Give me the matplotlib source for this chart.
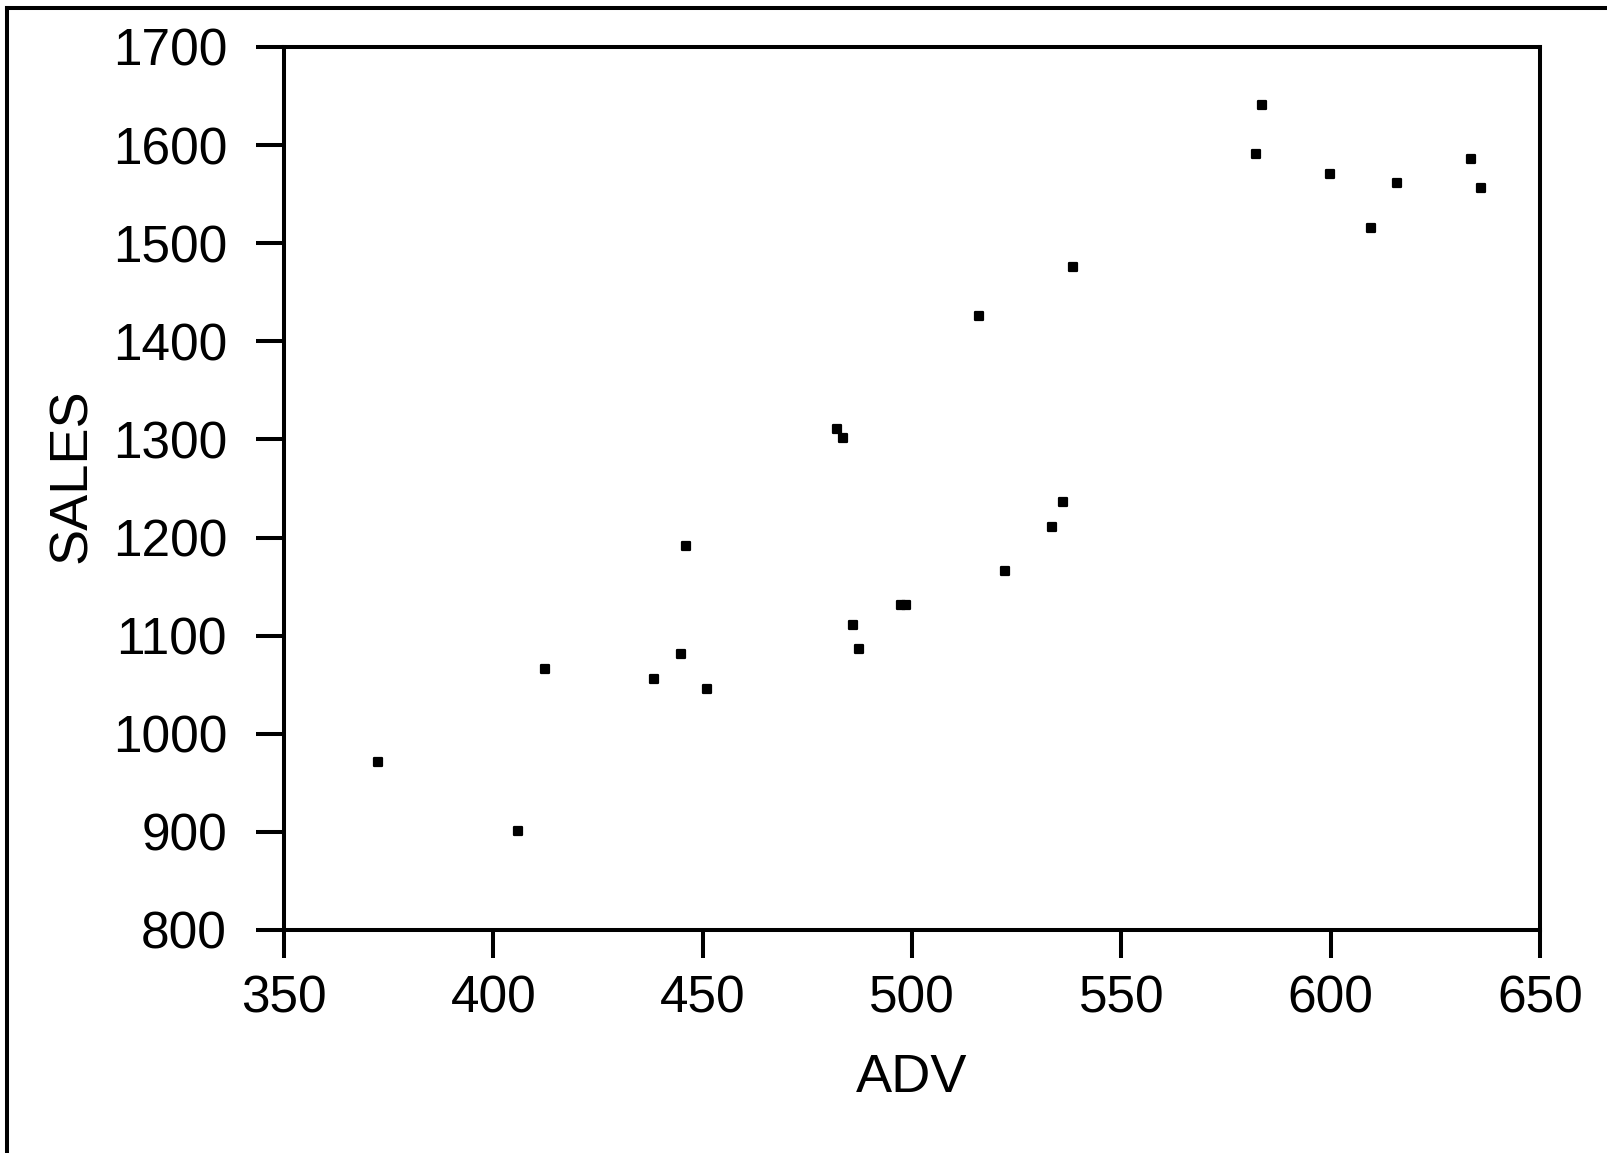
import matplotlib.pyplot as plt
from matplotlib.lines import Line2D
from matplotlib.markers import MarkerStyle

# ---- data ----
ADV = [372.4, 406.0, 412.3, 438.3, 444.8, 446.0, 451.0,
       482.2, 483.6, 486.0, 487.3, 497.3, 498.6,
       516.0, 522.3, 533.5, 536.0, 538.5,
       582.2, 583.5, 599.8, 609.6, 615.9, 633.4, 636.0]
SALES = [971, 901, 1066, 1056, 1081, 1191, 1046,
         1311, 1301, 1111, 1086, 1131, 1131,
         1426, 1166, 1211, 1236, 1476,
         1591, 1641, 1571, 1516, 1561, 1586, 1556]

X_TICKS = [350, 400, 450, 500, 550, 600, 650]
Y_TICKS = [800, 900, 1000, 1100, 1200, 1300, 1400, 1500, 1600, 1700]

plt.rcParams['font.family'] = ['Liberation Sans', 'DejaVu Sans']

fig = plt.figure(figsize=(16.07, 11.53), dpi=100)
ax = fig.add_axes([284 / 1607, 1 - 930 / 1153, (1540 - 284) / 1607, (930 - 47) / 1153])

marker = MarkerStyle('s', joinstyle='round')
ax.plot(ADV, SALES, ls='none', marker=marker, ms=6, mew=1.6,
        color='black', mfc='black', mec='black')

ax.set_xlim(350, 650)
ax.set_ylim(800, 1700)
ax.set_xticks(X_TICKS)
ax.set_yticks(Y_TICKS)

for sp in ax.spines.values():
    sp.set_linewidth(2.9)
ax.tick_params(direction='out', length=20, width=2.9, labelsize=37)
ax.tick_params(axis='y', pad=21)
ax.tick_params(axis='x', pad=12)

# axis labels, placed where they sit in the reference
ax.set_xlabel('ADV', fontsize=39, va='center')
ax.set_ylabel('SALES', fontsize=39, va='center')
ax.xaxis.set_label_coords(0.5, -0.1676)
ax.yaxis.set_label_coords(-0.169, 0.515)

# outer frame (only top and left edges visible in the picture)
fig.add_artist(Line2D([7 / 1607, 7 / 1607], [0, 1 - 8 / 1153], transform=fig.transFigure,
                      color='black', lw=2.9, solid_capstyle='projecting'))
fig.add_artist(Line2D([7 / 1607, 1], [1 - 8 / 1153, 1 - 8 / 1153], transform=fig.transFigure,
                      color='black', lw=2.9, solid_capstyle='projecting'))

fig.savefig('out.png', dpi=100)
